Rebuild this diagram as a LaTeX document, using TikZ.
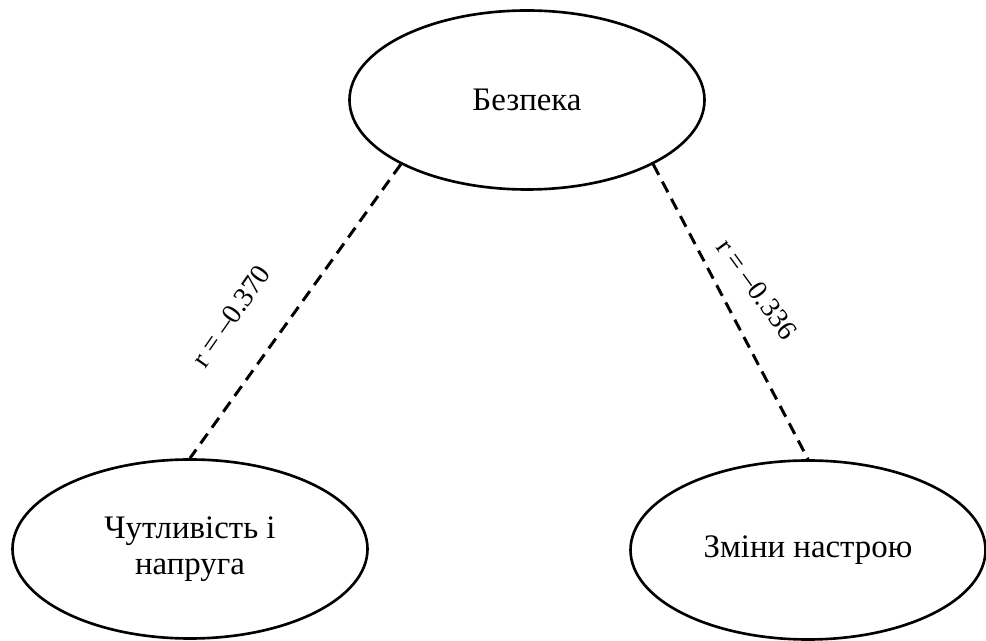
\documentclass[tikz,border=0pt]{standalone}
\usepackage{fontspec}
\setmainfont{Liberation Serif}
\usepackage{tikz}
\usetikzlibrary{shapes.geometric}

\begin{document}
\begin{tikzpicture}[
  factor/.style={draw, ellipse, line width=1.5pt, inner sep=0pt,
    minimum width=7.1cm, minimum height=3.58cm, align=center,
    font=\fontsize{18.7}{20.5}\selectfont},
  corr/.style={line width=1.7pt, dash pattern=on 0.24cm off 0.15cm},
  coef/.style={font=\fontsize{16}{18}\selectfont}
]
\useasboundingbox (0, 0) rectangle (19.72, 12.82);
%%% The factor on top
\node[factor] (bez) at (10.54, 10.82) {Безпека};
%%%%%% The two factors below
\node[factor] (chut) at (3.80, 1.84) {Чутливість і\\напруга};
\node[factor] (zmin) at (16.16, 1.82) {Зміни настрою};
%%%%%% The correlations between them
\draw[corr] (bez.207) -- (chut.north);
\draw[corr] (bez.333) -- (zmin.north);
%
\node[coef, rotate=55] (rchut) at (4.62, 6.50) {r = –0.370};
\node[coef, rotate=-54] (rzmin) at (15.14, 7.04) {r = –0.336};
\end{tikzpicture}
\end{document}
